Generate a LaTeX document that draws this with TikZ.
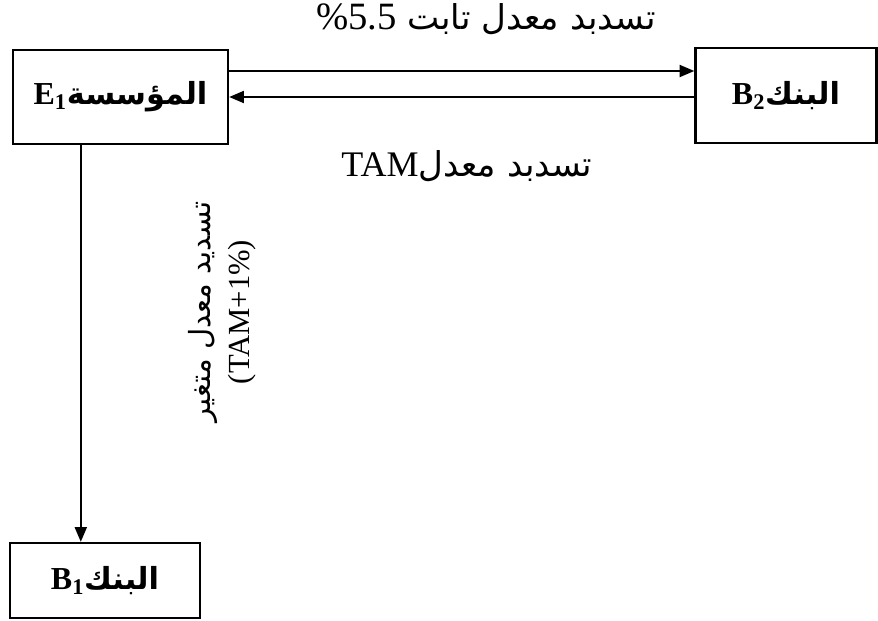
\documentclass[tikz,border=0pt]{standalone}
\usepackage{fontspec}
\setmainfont{Liberation Serif}
\newfontfamily\arabicfont[Script=Arabic,Scale=0.95]{DejaVu Sans}
\TeXXeTstate=1
\usetikzlibrary{arrows.meta,calc}
\begin{document}
\begin{tikzpicture}[x=0.75pt,y=-0.75pt,
  box/.style={draw,line width=1.8pt,inner sep=0pt,font=\fontsize{24}{28}\selectfont\bfseries},
  conn/.style={line width=1.4pt,-{Triangle[length=11pt,width=9pt]}},
  lbl/.style={font=\fontsize{27}{31}\selectfont},
  vlbl/.style={font=\fontsize{23}{29}\selectfont}]
\useasboundingbox (0,0) rectangle (878,621);
\node[box,minimum width=215*0.75pt,minimum height=94*0.75pt] (E1) at (120.5,97)
  {\beginR{\arabicfont المؤسسة}\beginL E\textsubscript{1}\endL\endR};
\node[box,minimum width=181*0.75pt,minimum height=95*0.75pt] (B2) at (786,95.5)
  {\beginR{\arabicfont البنك}\beginL B\textsubscript{2}\endL\endR};
\node[box,minimum width=190*0.75pt,minimum height=75*0.75pt] (B1) at (105,580.5)
  {\beginR{\arabicfont البنك}\beginL B\textsubscript{1}\endL\endR};
\coordinate (up) at (0,71);
\draw[conn] (E1.east |- up) -- (B2.west |- up);
\draw[conn] (B2.west |- E1.east) -- (E1.east);
\coordinate (vx) at ($(E1.south west)+(69,0)$);
\draw[conn] (vx) -- (vx |- B1.north);
\node[lbl] (t1) at (486,19) {\arabicfont\beginR تسدبد معدل تابت \beginL{\fontspec{Liberation Serif}\fontsize{29}{31}\selectfont\%5.5}\endL\endR};
\node[lbl] (t2) at (467,166) {\arabicfont\beginR تسدبد معدل\beginL{\fontspec{Liberation Serif}TAM}\endL\endR};
\node[vlbl,rotate=90,align=center] (t3) at (222,312) {{\arabicfont\beginR تسديد معدل متغير\endR}\\(TAM+1\%)};
\end{tikzpicture}
\end{document}
